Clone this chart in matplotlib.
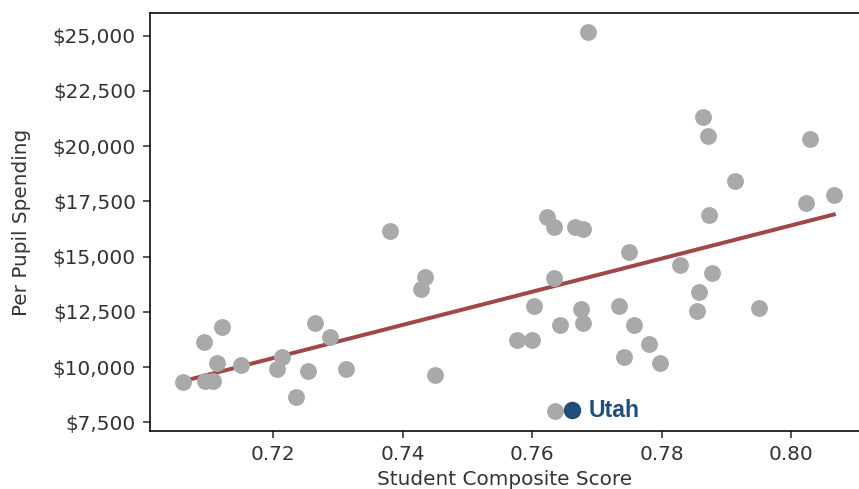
import numpy as np
import matplotlib
matplotlib.use("Agg")
import matplotlib.pyplot as plt
from matplotlib.ticker import FuncFormatter, MultipleLocator

# composite score vs per pupil spending, one point per state
score = [0.7060, 0.7093, 0.7094, 0.7107, 0.7113, 0.7120, 0.7150, 0.7206, 0.7213, 0.7253,
         0.7235, 0.7265, 0.7288, 0.7312, 0.7381, 0.7434, 0.7428, 0.7450, 0.7576, 0.7599,
         0.7603, 0.7623, 0.7633, 0.7633, 0.7643, 0.7635, 0.7666, 0.7679, 0.7676, 0.7679,
         0.7686, 0.7734, 0.7742, 0.7749, 0.7758, 0.7781, 0.7798, 0.7828, 0.7858, 0.7854,
         0.7864, 0.7871, 0.7874, 0.7878, 0.7914, 0.7950, 0.8023, 0.8030, 0.8066]
spending = [9309, 11120, 9368, 9368, 10197, 11826, 10093, 9925, 10441, 9821,
            8630, 12008, 11360, 9925, 16159, 14090, 13547, 9653, 11224, 11224,
            12777, 16793, 16326, 14017, 11903, 8024, 16326, 16236, 12614, 12008,
            25154, 12763, 10455, 15208, 11903, 11043, 10183, 14606, 13397, 12523,
            21333, 20473, 16883, 14257, 18409, 12687, 17440, 20310, 17802]
utah_score = 0.7661
utah_spending = 8055

all_x = np.array(score + [utah_score])
all_y = np.array(spending + [utah_spending])
m, b = np.polyfit(all_x, all_y, 1)
fit_x = np.array([all_x.min(), all_x.max()])

fig = plt.figure(figsize=(859/144, 489/144), dpi=144)
ax = fig.add_axes([150/859, 1 - 430.7/489, 1 - 150/859, (430.7 - 13.3)/489])

ax.scatter(score, spending, s=55, color="#a9a9a9", zorder=2)
ax.scatter([utah_score], [utah_spending], s=60, color="#1f4e79", zorder=3)
ax.text(utah_score + 0.0026, utah_spending, "Utah", color="#1f4e79", fontsize=11.5,
        fontweight="bold", family=["Liberation Sans", "DejaVu Sans"], va="center", ha="left")

ax.plot(fit_x, m*fit_x + b, "-", color="#a04848", lw=2, zorder=1)

ax.set_xlim(0.70095, 0.8105)
ax.set_ylim(7118, 26014)
ax.xaxis.set_major_locator(MultipleLocator(0.02))
ax.yaxis.set_major_locator(MultipleLocator(2500))
ax.xaxis.set_major_formatter(FuncFormatter(lambda v, p: "%.2f" % v))
ax.yaxis.set_major_formatter(FuncFormatter(lambda v, p: "${:,.0f}".format(v)))
ax.spines["right"].set_visible(False)
ax.tick_params(colors="#333333", labelcolor="#333333")

ax.set_xlabel("Student Composite Score", color="#333333", labelpad=3)
ax.set_ylabel("Per Pupil Spending", color="#333333")
ax.yaxis.set_label_coords(-0.168, 0.5)

fig.savefig("out.png", dpi=144)
